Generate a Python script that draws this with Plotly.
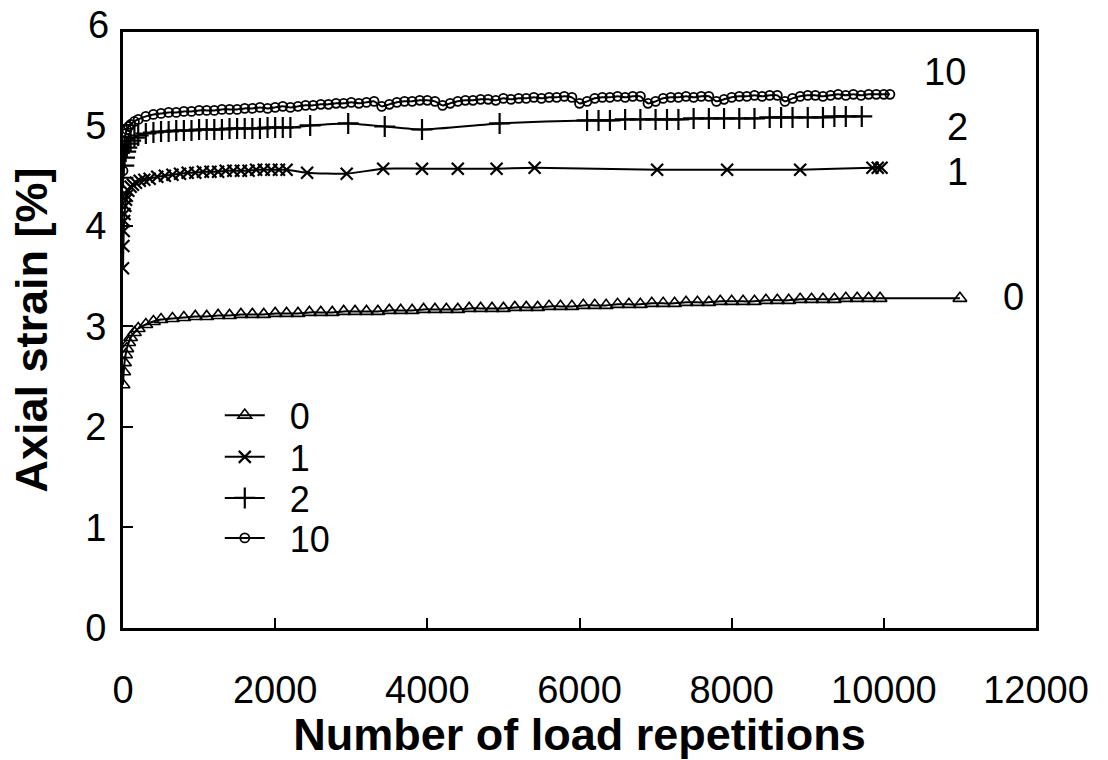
import plotly.graph_objects as go

# Axial strain [%] versus number of load repetitions, four test series

# series "0"
reps_0 = [0, 10, 20, 35, 50, 75, 100, 150, 200, 300, 400, 500, 650, 800, 950,
          1100, 1250, 1400, 1550, 1700, 1850, 2000, 2150, 2300, 2450, 2600, 2750,
          2900, 3050, 3200, 3350, 3500, 3650, 3800, 3950, 4100, 4250, 4400, 4550,
          4700, 4850, 5000, 5150, 5300, 5450, 5600, 5750, 5900, 6050, 6200, 6350,
          6500, 6650, 6800, 6950, 7100, 7250, 7400, 7550, 7700, 7850, 8000, 8150,
          8300, 8450, 8600, 8750, 8900, 9050, 9200, 9350, 9500, 9650, 9800, 9950,
          11000]
strain_0 = [2.42, 2.55, 2.64, 2.72, 2.78, 2.84, 2.89, 2.94, 2.98, 3.02, 3.05, 3.07,
            3.08, 3.09, 3.10, 3.10, 3.11, 3.11, 3.12, 3.12, 3.12, 3.13, 3.13, 3.13,
            3.14, 3.14, 3.14, 3.15, 3.15, 3.15, 3.15, 3.16, 3.16, 3.16, 3.17, 3.17,
            3.17, 3.17, 3.18, 3.18, 3.18, 3.18, 3.19, 3.19, 3.19, 3.20, 3.20, 3.20,
            3.21, 3.21, 3.21, 3.22, 3.22, 3.22, 3.23, 3.23, 3.23, 3.24, 3.24, 3.24,
            3.25, 3.25, 3.25, 3.25, 3.26, 3.26, 3.26, 3.27, 3.27, 3.27, 3.27, 3.28,
            3.28, 3.28, 3.28, 3.28]

# series "1"
reps_1 = [0, 5, 10, 15, 20, 30, 40, 50, 70, 100, 130, 170, 220, 280, 350, 450,
          550, 650, 750, 850, 950, 1050, 1150, 1250, 1350, 1450, 1550, 1650, 1750,
          1850, 1950, 2050, 2150, 2420, 2940, 3420, 3930, 4400, 4910, 5410, 7020,
          7940, 8900, 9850, 9920, 9970]
strain_1 = [3.58, 3.80, 3.95, 4.05, 4.12, 4.20, 4.26, 4.30, 4.35, 4.39, 4.41, 4.43,
            4.45, 4.46, 4.47, 4.49, 4.50, 4.51, 4.52, 4.53, 4.53, 4.54, 4.54, 4.54,
            4.55, 4.55, 4.55, 4.55, 4.56, 4.56, 4.56, 4.56, 4.56, 4.53, 4.52, 4.57,
            4.57, 4.57, 4.57, 4.58, 4.56, 4.56, 4.56, 4.58, 4.58, 4.58]

# series "2"
reps_2 = [0, 10, 20, 35, 50, 75, 100, 150, 200, 300, 400, 500, 600, 700, 800, 900,
          1000, 1100, 1200, 1300, 1400, 1500, 1600, 1700, 1800, 1900, 2000, 2100,
          2200, 2460, 2960, 3440, 3930, 4950, 6100, 6250, 6400, 6600, 6800, 7000,
          7150, 7300, 7500, 7700, 7900, 8100, 8300, 8500, 8650, 8800, 9000, 9200,
          9350, 9500, 9710]
strain_2 = [4.48, 4.60, 4.68, 4.74, 4.78, 4.82, 4.85, 4.88, 4.90, 4.92, 4.93, 4.94,
            4.94, 4.95, 4.95, 4.95, 4.96, 4.96, 4.96, 4.96, 4.97, 4.97, 4.97, 4.97,
            4.97, 4.98, 4.98, 4.98, 4.98, 5.00, 5.02, 4.99, 4.96, 5.02, 5.05, 5.05,
            5.05, 5.06, 5.06, 5.06, 5.06, 5.06, 5.07, 5.07, 5.07, 5.07, 5.07, 5.08,
            5.08, 5.08, 5.08, 5.08, 5.09, 5.09, 5.09]

# series "10"
reps_10 = [0, 10, 20, 35, 50, 75, 100, 150, 200, 300, 400,
           500, 600, 700, 800, 900, 1000, 1100, 1200, 1300, 1400,
           1500, 1600, 1700, 1800, 1900, 2000, 2100, 2200, 2300, 2400,
           2500, 2600, 2700, 2800, 2900, 3000, 3100, 3200, 3300, 3400,
           3500, 3600, 3700, 3800, 3900, 4000, 4100, 4200, 4300, 4400,
           4500, 4600, 4700, 4800, 4900, 5000, 5100, 5200, 5300, 5400,
           5500, 5600, 5700, 5800, 5900, 6000, 6100, 6200, 6300, 6400,
           6500, 6600, 6700, 6800, 6900, 7000, 7100, 7200, 7300, 7400,
           7500, 7600, 7700, 7800, 7900, 8000, 8100, 8200, 8300, 8400,
           8500, 8600, 8700, 8800, 8900, 9000, 9100, 9200, 9300, 9400,
           9500, 9600, 9700, 9800, 9900, 10000, 10080]
strain_10 = [4.55, 4.75, 4.85, 4.92, 4.96, 4.99, 5.01, 5.04, 5.06, 5.09, 5.11,
             5.12, 5.13, 5.13, 5.14, 5.14, 5.15, 5.15, 5.15, 5.16, 5.16,
             5.16, 5.17, 5.17, 5.18, 5.17, 5.18, 5.19, 5.18, 5.19, 5.20,
             5.20, 5.21, 5.21, 5.22, 5.22, 5.23, 5.22, 5.23, 5.24, 5.19,
             5.21, 5.23, 5.24, 5.24, 5.25, 5.25, 5.24, 5.20, 5.22, 5.24,
             5.25, 5.25, 5.26, 5.26, 5.25, 5.27, 5.26, 5.27, 5.27, 5.28,
             5.27, 5.28, 5.28, 5.29, 5.28, 5.22, 5.24, 5.27, 5.28, 5.28,
             5.29, 5.28, 5.29, 5.29, 5.22, 5.24, 5.27, 5.28, 5.28, 5.29,
             5.28, 5.29, 5.29, 5.24, 5.26, 5.28, 5.29, 5.29, 5.30, 5.29,
             5.30, 5.30, 5.24, 5.27, 5.29, 5.30, 5.30, 5.29, 5.30, 5.31,
             5.30, 5.31, 5.30, 5.31, 5.31, 5.31, 5.31]

series_names = ["0", "1", "2", "10"]
end_labels = ["10", "2", "1", "0"]
end_label_pos = [(10800, 5.53), (10970, 4.98), (10970, 4.54), (11700, 3.29)]
y_ticks = [0, 1, 2, 3, 4, 5, 6]
x_ticks = [0, 2000, 4000, 6000, 8000, 10000, 12000]
Y_MAX = 5.93

FONT = "Liberation Sans, Arial, sans-serif"
NBSP = "\u00a0"

fig = go.Figure()

styles = [
    dict(symbol="triangle-up-open", size=12, line=dict(width=1.6, color="black")),
    dict(symbol="x-thin-open", size=12, line=dict(width=2.2, color="black")),
    dict(symbol="cross-thin-open", size=15, line=dict(width=2.2, color="black")),
    dict(symbol="circle-open", size=9, line=dict(width=1.8, color="black")),
]
data = [(reps_0, strain_0), (reps_1, strain_1), (reps_2, strain_2), (reps_10, strain_10)]
legend_ids = ["legend", "legend2", "legend3", "legend4"]
legend_rows = [0.357, 0.287, 0.218, 0.151]

for name, (xs, ys), mk, lg in zip(series_names, data, styles, legend_ids):
    fig.add_trace(go.Scatter(
        x=xs, y=ys, name=NBSP * 2 + name, mode="lines+markers", legend=lg,
        line=dict(color="black", width=2, shape="spline", smoothing=0.6),
        marker=dict(color="black", **mk),
    ))

for text, (lx, ly) in zip(end_labels, end_label_pos):
    fig.add_annotation(x=lx, y=ly, text=text, showarrow=False,
                       font=dict(family=FONT, size=38, color="black"))

# the top tick label sits just above the frame
fig.add_annotation(x=0, xref="paper", xanchor="right", xshift=-12,
                   y=y_ticks[-1] / Y_MAX, yref="paper", yanchor="middle",
                   text=str(y_ticks[-1]), showarrow=False,
                   font=dict(family=FONT, size=38, color="black"))

legend_layout = {}
for lg, ry in zip(legend_ids, legend_rows):
    legend_layout[lg] = dict(x=0.106, y=ry, xanchor="left", yanchor="middle",
                             bgcolor="rgba(0,0,0,0)", borderwidth=0,
                             font=dict(family=FONT, size=36, color="black"),
                             itemwidth=40)

fig.update_layout(
    width=1108, height=760,
    margin=dict(l=123, r=72, t=32, b=132),
    paper_bgcolor="white", plot_bgcolor="white",
    font=dict(family=FONT, color="black"),
    showlegend=True,
    **legend_layout,
)

fig.update_xaxes(
    range=[0, 12000], tickvals=x_ticks, ticktext=[str(v) for v in x_ticks],
    ticks="inside", ticklen=10, tickwidth=2, tickcolor="black",
    showline=True, linewidth=3, linecolor="black", mirror=True,
    showgrid=False, zeroline=False, automargin=False,
    tickfont=dict(family=FONT, size=38, color="black"),
    ticklabelstandoff=26,
    title=dict(text="<b>Number of load repetitions</b>",
               font=dict(family=FONT, size=45, color="black"), standoff=12),
)
fig.update_yaxes(
    range=[0, Y_MAX], tickvals=y_ticks[:-1], ticktext=[str(v) for v in y_ticks[:-1]],
    ticks="inside", ticklen=10, tickwidth=2, tickcolor="black",
    showline=True, linewidth=3, linecolor="black", mirror=True,
    showgrid=False, zeroline=False, automargin=False,
    tickfont=dict(family=FONT, size=38, color="black"),
    ticklabelstandoff=6,
    title=dict(text="<b>Axial strain [%]</b>",
               font=dict(family=FONT, size=45, color="black"), standoff=24),
)

fig.write_html("out.html")
